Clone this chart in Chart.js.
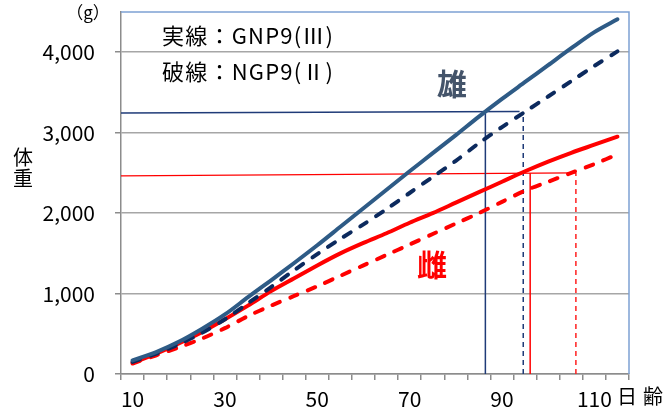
<!DOCTYPE html>
<html><head><meta charset="utf-8">
<script src="https://cdn.jsdelivr.net/npm/chart.js@4.4.1/dist/chart.umd.min.js"></script>
<style>html,body{margin:0;padding:0;background:#fff}canvas{display:block}</style>
</head><body>
<canvas id="c" width="665" height="408"></canvas>
<script>
// ---- data ----
const days = [10,15,20,25,30,35,40,45,50,55,60,65,70,75,80,85,90,95,100,105,110,115];
const gnpMale   = [170,270,400,560,740,955,1165,1380,1600,1830,2060,2290,2520,2745,2970,3200,3420,3630,3840,4050,4250,4410];
const ngpMale   = [150,250,370,510,680,880,1080,1290,1490,1680,1860,2050,2250,2450,2650,2870,3070,3260,3450,3640,3830,4010];
const gnpFemale = [140,250,380,520,680,850,1030,1190,1350,1500,1630,1750,1880,2000,2130,2260,2390,2520,2640,2750,2850,2950];
const ngpFemale = [130,230,330,440,570,720,850,970,1090,1220,1350,1480,1610,1740,1870,2000,2140,2280,2390,2500,2610,2730];

// reference (guide) lines: [day, weight]
const maleGuideH      = [[7.5,3243],[93.8,3262]];
const maleGuideSolid  = [[86.4,0],[86.4,3262]];
const maleGuideDash   = [[94.6,0],[94.6,3255]];
const femaleGuideH    = [[7.5,2463],[106,2500]];
const femaleGuideSolid= [[96.1,0],[96.1,2497]];
const femaleGuideDash = [[106,0],[106,2500]];

const yTicks = [0,1000,2000,3000,4000];
const xLabels = [10,30,50,70,90,110];
const xTickMarks = [7.5,12.5,17.5,22.5,27.5,32.5,37.5,42.5,47.5,52.5,57.5,62.5,67.5,72.5,77.5,82.5,87.5,92.5,97.5,102.5,107.5,112.5,117.5];
const xMin = 7.5, xMax = 117.5, yMin = 0, yMax = 4500;

const FONT = '"Noto Sans CJK JP", "Noto Sans", sans-serif';
Chart.defaults.font.family = FONT;
Chart.defaults.color = '#000';

const pts = (xs, ys) => xs.map((x,i)=>({x, y: ys[i]}));
const pairs = (arr) => arr.map(p=>({x:p[0], y:p[1]}));

function curve(data, color, dashed){
  return {data, borderColor: color, borderWidth: 4, pointRadius: 0, tension: 0.3,
    borderDash: dashed ? [8,11] : [], borderCapStyle: 'round', borderJoinStyle:'round', order: 0, clip: false};
}
function guide(data, color, dashed, w){
  return {data, borderColor: color, borderWidth: w || 1.5, pointRadius: 0, tension: 0,
    borderDash: dashed ? [5,4] : [], order: 1};
}
function noPad(s){ s.paddingTop = 0; s.paddingBottom = 0; s.paddingLeft = 0; s.paddingRight = 0; }

const annot = {
  id: 'annot',
  beforeDatasetsDraw(chart){
    const {ctx, chartArea: a} = chart;
    ctx.save();
    ctx.strokeStyle = '#7EA1D3'; ctx.lineWidth = 1.5;
    ctx.beginPath(); ctx.moveTo(a.left, a.top); ctx.lineTo(a.right, a.top); ctx.lineTo(a.right, a.bottom); ctx.stroke();
    ctx.restore();
  },
  afterDraw(chart){
    const {ctx} = chart;
    ctx.save();
    ctx.textBaseline = 'middle';
    ctx.fillStyle = '#000';
    ctx.textAlign = 'center';
    ctx.font = '17px ' + FONT;
    ctx.fillText('（g）', 88, 13);
    ctx.font = '20px ' + FONT;
    ctx.fillText('体', 23, 157);
    ctx.fillText('重', 23, 178);
    ctx.textAlign = 'left';
    ctx.letterSpacing = '6px';
    ctx.fillText('日齢', 617, 396);
    // legend-like note
    ctx.font = '22px ' + FONT;
    const l1 = '実線：GNP9(Ⅲ)', l2 = '破線：NGP9(Ⅱ)';
    ctx.letterSpacing = '0px';
    const w = ctx.measureText(l1).width;
    const ls = (171 - w) / (l1.length - 1);
    ctx.letterSpacing = ls + 'px';
    ctx.fillText(l1, 162, 36);
    ctx.fillText(l2, 162, 72);
    ctx.letterSpacing = '0px';
    // sex labels
    ctx.textAlign = 'center';
    ctx.font = 'bold 30px ' + FONT;
    ctx.fillStyle = '#44546A';
    ctx.fillText('雄', 452, 84);
    ctx.fillStyle = '#FF0000';
    ctx.fillText('雌', 432, 265);
    ctx.restore();
  }
};

new Chart(document.getElementById('c'), {
  type: 'line',
  data: {
    datasets: [
      curve(pts(days, gnpMale), '#2E5B86', false),
      curve(pts(days, ngpMale), '#0C2A5E', true),
      curve(pts(days, gnpFemale), '#FF0000', false),
      curve(pts(days, ngpFemale), '#FF0000', true),
      guide(pairs(maleGuideH), '#1F3B78', false, 1.5),
      guide(pairs(maleGuideSolid), '#1F3B78', false, 1.5),
      guide(pairs(maleGuideDash), '#1F3B78', true, 1.5),
      guide(pairs(femaleGuideH), '#FF0000', false, 1.2),
      guide(pairs(femaleGuideSolid), '#FF0000', false, 1.5),
      guide(pairs(femaleGuideDash), '#FF2020', true, 1.5)
    ]
  },
  options: {
    responsive: false, animation: false,
    layout: {padding: {left: 0, right: 36, top: 12, bottom: 0}},
    plugins: {legend: {display: false}, tooltip: {enabled: false}},
    scales: {
      x: {
        type: 'linear', min: xMin, max: xMax,
        afterBuildTicks(s){ s.ticks = [...xTickMarks, ...xLabels].sort((a,b)=>a-b).map(v=>({value: v})); },
        afterFit(s){ s.height = 34; noPad(s); },
        ticks: {autoSkip: false, maxRotation: 0, minRotation: 0, padding: 6, color: '#000', font: {size: 21},
          callback: (v) => xLabels.includes(v) ? String(v) : ''},
        grid: {drawOnChartArea: false, tickLength: 6, lineWidth: 1.5,
          tickColor: (ctx) => (ctx.tick && xLabels.includes(ctx.tick.value)) ? 'rgba(0,0,0,0)' : '#8C8C8C'},
        border: {color: '#8C8C8C', width: 1.5}
      },
      y: {
        min: yMin, max: yMax,
        afterBuildTicks(s){ s.ticks = yTicks.map(v=>({value: v})); },
        afterFit(s){ s.width = 121; noPad(s); },
        ticks: {padding: 20, color: '#000', font: {size: 21},
          callback: (v) => Number(v).toLocaleString('en-US')},
        grid: {color: '#A6A6A6', lineWidth: 1.5, tickLength: 6, tickColor: '#8C8C8C'},
        border: {color: '#8C8C8C', width: 1.5}
      }
    }
  },
  plugins: [annot]
});
</script>
</body></html>
